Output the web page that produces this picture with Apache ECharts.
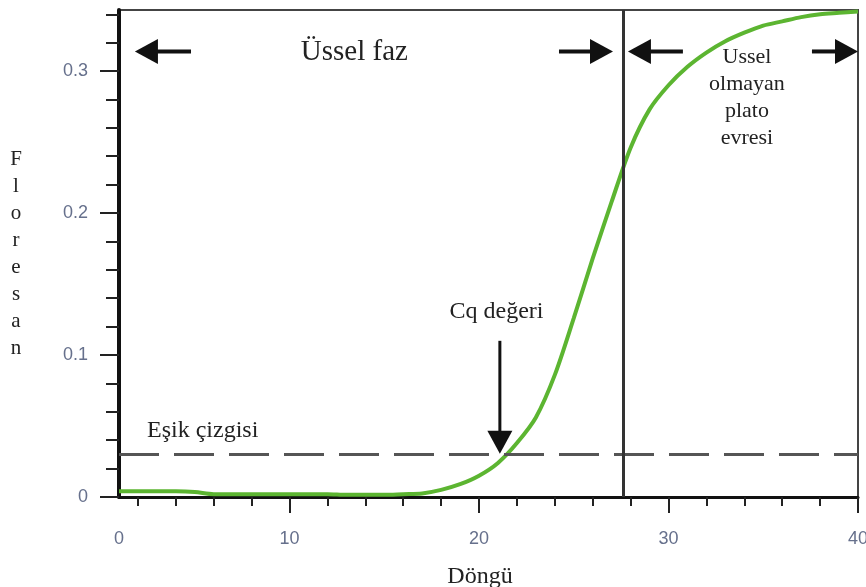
<!DOCTYPE html>
<html>
<head>
<meta charset="utf-8">
<script src="https://cdn.jsdelivr.net/npm/echarts@6/dist/echarts.min.js"></script>
<style>
  html, body { margin: 0; padding: 0; background: #fff; }
  #chart { width: 866px; height: 587px; }
</style>
</head>
<body>
<div id="chart"></div>
<script>
// ---- data ----
const cycles = [1,2,3,4,5,6,7,8,9,10,11,12,13,14,15,16,17,18,19,20,
                21,22,23,24,25,26,27,28,29,30,31,32,33,34,35,36,37,38,39,40];
const fluorescence = [0.004,0.004,0.004,0.004,0.0035,0.002,0.002,0.002,0.002,0.002,
                      0.002,0.002,0.0015,0.0015,0.0015,0.002,0.0025,0.005,0.009,0.015,
                      0.024,0.038,0.056,0.086,0.126,0.168,0.208,0.246,0.273,0.290,
                      0.303,0.313,0.321,0.327,0.332,0.335,0.338,0.340,0.341,0.342];
const thresholdValue = 0.027;
const phaseBoundaryCycle = 27.6;

const xMajorTicks = [10, 20, 30, 40];
const xLabelValues = [1, 10, 20, 30, 40];
const xLabelTexts = ['0', '10', '20', '30', '40'];
const xMinorTicks = [2,4,6,8,12,14,16,18,22,24,26,28,32,34,36,38];
const yMajorTicks = [0, 0.1, 0.2, 0.3];
const yLabelTexts = ['0', '0.1', '0.2', '0.3'];
const yMinorTicks = [0.02,0.04,0.06,0.08,0.12,0.14,0.16,0.18,0.22,0.24,0.26,0.28,0.32,0.34];

const xAxisTitle = 'Döngü';
const yAxisTitle = 'Floresan';

// annotation arrows: [tailX, tailY, tipX, tipY, shaftWidth] in data units
const arrowsData = [
  [4.80, 0.3138, 1.84, 0.3138, 4],
  [24.22, 0.3138, 27.07, 0.3138, 4],
  [30.76, 0.3138, 27.86, 0.3138, 4],
  [37.57, 0.3138, 40.0, 0.3138, 4],
  [21.1, 0.110, 21.1, 0.0304, 3]
];
// annotation texts: [text, x, y]
const phaseText = ['Üssel faz', 13.42, 0.313];
const plateauText = ['Ussel\nolmayan\nplato\nevresi', 34.14, 0.281];
const cqText = ['Cq değeri', 20.92, 0.1307];
const thresholdText = ['Eşik çizgisi', 2.48, 0.0466];

// ---- chart ----
const SERIF = "'Liberation Serif', 'Times New Roman', 'DejaVu Serif', serif";
const SANS = "'Liberation Sans Narrow', 'Liberation Sans', Arial, sans-serif";
const chart = echarts.init(document.getElementById('chart'));

const X_MIN = 1, X_MAX = 40, Y_MIN = 0, Y_MAX = 0.343;

const option = {
  backgroundColor: '#fff',
  animation: false,
  grid: {
    left: 119, right: 8, top: 10, bottom: 90,
    outerBoundsMode: 'none', containLabel: false,
    show: true, borderColor: '#444', borderWidth: 2, backgroundColor: '#fff'
  },
  xAxis: [
    {
      type: 'value', min: X_MIN, max: X_MAX, position: 'bottom',
      name: xAxisTitle, nameLocation: 'middle', nameGap: 68,
      nameTextStyle: { fontFamily: SERIF, fontSize: 24, color: '#222', padding: [0, 17, 0, 0] },
      axisLine: { show: true, onZero: false, lineStyle: { color: '#111', width: 3 } },
      axisTick: { show: true, customValues: xMajorTicks, length: 16, lineStyle: { color: '#222', width: 2 } },
      axisLabel: {
        customValues: xLabelValues, margin: 33,
        formatter: v => xLabelTexts[xLabelValues.indexOf(v)] ?? String(v),
        fontFamily: SANS, fontSize: 18, color: '#66708c'
      },
      splitLine: { show: false }
    },
    {
      type: 'value', min: X_MIN, max: X_MAX, position: 'bottom',
      axisLine: { show: false, onZero: false },
      axisTick: { show: true, customValues: xMinorTicks, length: 9, lineStyle: { color: '#222', width: 2 } },
      axisLabel: { show: false },
      splitLine: { show: false }
    }
  ],
  yAxis: [
    {
      type: 'value', min: Y_MIN, max: Y_MAX, position: 'left',
      name: yAxisTitle.split('').join('\n'), nameLocation: 'middle', nameRotate: 0, nameGap: 103,
      nameTextStyle: { fontFamily: SERIF, fontSize: 21, lineHeight: 27, color: '#222', align: 'center', verticalAlign: 'middle', padding: [0, 0, 9, 0] },
      axisLine: { show: true, onZero: false, lineStyle: { color: '#111', width: 4 } },
      axisTick: { show: true, customValues: yMajorTicks, length: 19, lineStyle: { color: '#222', width: 2 } },
      axisLabel: {
        customValues: yMajorTicks, margin: 31,
        formatter: v => yLabelTexts[yMajorTicks.indexOf(v)] ?? String(v),
        fontFamily: SANS, fontSize: 18, color: '#66708c'
      },
      splitLine: { show: false }
    },
    {
      type: 'value', min: Y_MIN, max: Y_MAX, position: 'left',
      axisLine: { show: false, onZero: false },
      axisTick: { show: true, customValues: yMinorTicks, length: 13, lineStyle: { color: '#222', width: 2 } },
      axisLabel: { show: false },
      splitLine: { show: false }
    }
  ],
  series: [
    {
      type: 'line',
      xAxisIndex: 0, yAxisIndex: 0,
      data: cycles.map((c, i) => [c, fluorescence[i]]),
      smooth: 0.3,
      symbol: 'none',
      lineStyle: { color: '#5cb531', width: 4 },
      z: 3,
      markLine: {
        silent: true,
        symbol: 'none',
        label: { show: false },
        data: [
          { yAxis: thresholdValue, lineStyle: { color: '#555', width: 3, type: [40, 15] } },
          { xAxis: phaseBoundaryCycle, lineStyle: { color: '#333', width: 3, type: 'solid' } }
        ]
      }
    }
  ]
};
chart.setOption(option);

function px(x, y) {
  return chart.convertToPixel({ xAxisIndex: 0, yAxisIndex: 0 }, [x, y]);
}

const graphics = [];
arrowsData.forEach(a => {
  const t = px(a[0], a[1]);
  const h = px(a[2], a[3]);
  const dx = h[0] - t[0], dy = h[1] - t[1];
  const len = Math.sqrt(dx * dx + dy * dy);
  const ux = dx / len, uy = dy / len;
  const L = 23, W = 12.5;
  const bx = h[0] - ux * L, by = h[1] - uy * L;
  graphics.push({
    type: 'line', silent: true, z: 10,
    shape: { x1: t[0], y1: t[1], x2: bx + ux * 2, y2: by + uy * 2 },
    style: { stroke: '#111', lineWidth: a[4] }
  });
  graphics.push({
    type: 'polygon', silent: true, z: 10,
    shape: { points: [[h[0], h[1]], [bx - uy * W, by + ux * W], [bx + uy * W, by - ux * W]] },
    style: { fill: '#111' }
  });
});

function addText(t, size, align, lh) {
  const p = px(t[1], t[2]);
  graphics.push({
    type: 'text', silent: true, z: 10, x: p[0], y: p[1],
    style: {
      text: t[0], fontFamily: SERIF, fontSize: size, fill: '#222',
      align: align, verticalAlign: 'middle', lineHeight: lh || size * 1.15
    }
  });
}
addText(phaseText, 29, 'center');
addText(plateauText, 22, 'center', 27);
addText(cqText, 24, 'center');
addText(thresholdText, 24, 'left');

chart.setOption({ graphic: graphics });
</script>
</body>
</html>
